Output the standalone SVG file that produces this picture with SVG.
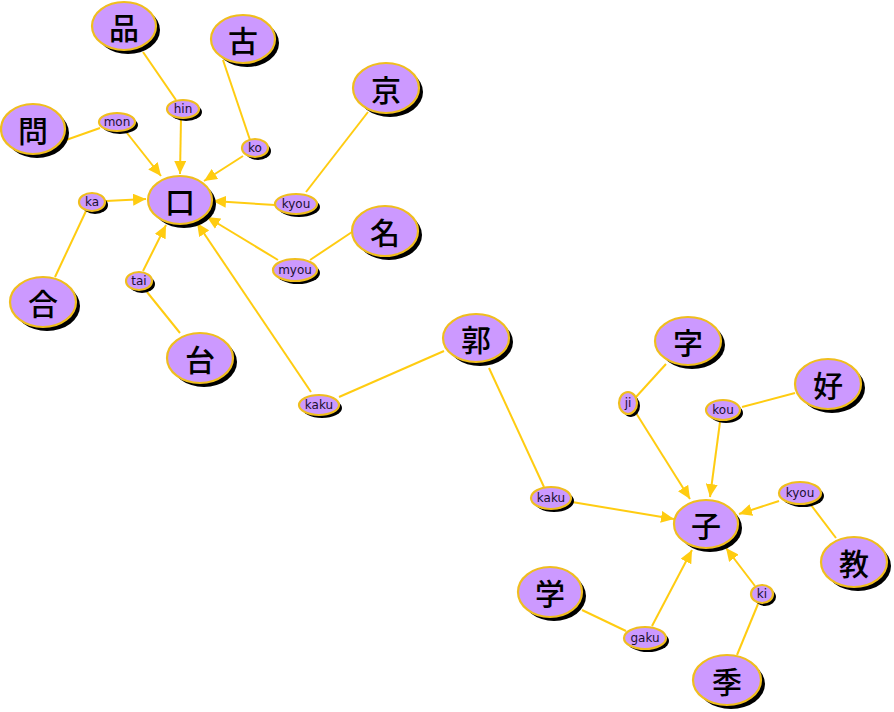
<svg xmlns="http://www.w3.org/2000/svg" width="894" height="712" viewBox="0 0 894 712">
<defs>
<style>
.sh{fill:#000}
.nd{fill:#cc99ff;stroke:#f0be1e;stroke-width:2.2}
.k{font-family:"Noto Sans CJK JP","Noto Sans CJK SC",sans-serif;font-size:30px;font-weight:500;fill:#000;text-anchor:middle;dominant-baseline:central}
.r{font-family:"DejaVu Sans",Verdana,sans-serif;font-size:12px;fill:#1a1030;text-anchor:middle;dominant-baseline:central}
.e{stroke:#ffcc11;stroke-width:2;fill:none}
.a{stroke:#ffcc11;stroke-width:2;fill:none;marker-end:url(#ah)}
</style>
<marker id="ah" markerUnits="userSpaceOnUse" markerWidth="14" markerHeight="12" refX="13" refY="6" orient="auto">
<path d="M0,0 L13,6 L0,12 z" fill="#ffcc11"/>
</marker>
</defs>
<rect width="894" height="712" fill="#fff"/>
<g id="connectors">
<line class="e" x1="143" y1="52" x2="176" y2="100"/>
<line class="a" x1="181" y1="118" x2="180" y2="174"/>
<line class="e" x1="223" y1="60" x2="250" y2="140"/>
<line class="a" x1="243" y1="156" x2="204" y2="181"/>
<line class="e" x1="66" y1="140" x2="100" y2="128"/>
<line class="a" x1="127" y1="133" x2="161" y2="176"/>
<line class="e" x1="368" y1="112" x2="306" y2="192"/>
<line class="a" x1="275" y1="205" x2="213" y2="201"/>
<line class="e" x1="352" y1="232" x2="310" y2="260"/>
<line class="a" x1="278" y1="260" x2="207" y2="217"/>
<line class="e" x1="55" y1="277" x2="86" y2="211"/>
<line class="a" x1="106" y1="201" x2="146" y2="199"/>
<line class="e" x1="180" y1="333" x2="147" y2="292"/>
<line class="a" x1="143" y1="271" x2="166" y2="225"/>
<line class="e" x1="444" y1="351" x2="339" y2="397"/>
<line class="a" x1="311" y1="392" x2="197" y2="223"/>
<line class="e" x1="489" y1="368" x2="544" y2="487"/>
<line class="a" x1="572" y1="502" x2="674" y2="519"/>
<line class="e" x1="666" y1="364" x2="636" y2="397"/>
<line class="a" x1="636" y1="413" x2="690" y2="499"/>
<line class="e" x1="795" y1="393" x2="742" y2="407"/>
<line class="a" x1="720" y1="422" x2="710" y2="497"/>
<line class="e" x1="836" y1="538" x2="811" y2="505"/>
<line class="a" x1="779" y1="501" x2="739" y2="514"/>
<line class="e" x1="582" y1="610" x2="626" y2="631"/>
<line class="a" x1="652" y1="626" x2="692" y2="550"/>
<line class="e" x1="737" y1="655" x2="758" y2="604"/>
<line class="a" x1="755" y1="586" x2="726" y2="548"/>
</g>
<g id="n-kuchi"><ellipse class="sh" cx="184" cy="204" rx="32" ry="24"/><ellipse class="nd" cx="180" cy="200" rx="32" ry="24"/><text class="k" x="180" y="200">口</text></g>
<g id="n-hin"><ellipse class="sh" cx="128" cy="30" rx="32" ry="24"/><ellipse class="nd" cx="124" cy="26" rx="32" ry="24"/><text class="k" x="124" y="26">品</text></g>
<g id="n-ko"><ellipse class="sh" cx="247" cy="43" rx="32" ry="24"/><ellipse class="nd" cx="243" cy="39" rx="32" ry="24"/><text class="k" x="243" y="39">古</text></g>
<g id="n-mon"><ellipse class="sh" cx="37" cy="133" rx="32" ry="25"/><ellipse class="nd" cx="33" cy="129" rx="32" ry="25"/><text class="k" x="33" y="129">問</text></g>
<g id="n-kyou"><ellipse class="sh" cx="390" cy="92" rx="33" ry="25"/><ellipse class="nd" cx="386" cy="88" rx="33" ry="25"/><text class="k" x="386" y="88">京</text></g>
<g id="n-myou"><ellipse class="sh" cx="389" cy="235" rx="33" ry="25"/><ellipse class="nd" cx="385" cy="231" rx="33" ry="25"/><text class="k" x="385" y="231">名</text></g>
<g id="n-gou"><ellipse class="sh" cx="47" cy="306" rx="33" ry="25"/><ellipse class="nd" cx="43" cy="302" rx="33" ry="25"/><text class="k" x="43" y="302">合</text></g>
<g id="n-dai"><ellipse class="sh" cx="204" cy="362" rx="33" ry="25"/><ellipse class="nd" cx="200" cy="358" rx="33" ry="25"/><text class="k" x="200" y="358">台</text></g>
<g id="n-kaku"><ellipse class="sh" cx="480" cy="342" rx="33" ry="24"/><ellipse class="nd" cx="476" cy="338" rx="33" ry="24"/><text class="k" x="476" y="338">郭</text></g>
<g id="n-ko2"><ellipse class="sh" cx="710" cy="528" rx="32" ry="24"/><ellipse class="nd" cx="706" cy="524" rx="32" ry="24"/><text class="k" x="706" y="524">子</text></g>
<g id="n-ji"><ellipse class="sh" cx="692" cy="345" rx="33" ry="24"/><ellipse class="nd" cx="688" cy="341" rx="33" ry="24"/><text class="k" x="688" y="341">字</text></g>
<g id="n-kou"><ellipse class="sh" cx="832" cy="388" rx="33" ry="25"/><ellipse class="nd" cx="828" cy="384" rx="33" ry="25"/><text class="k" x="828" y="384">好</text></g>
<g id="n-kyou2"><ellipse class="sh" cx="858" cy="566" rx="33" ry="25"/><ellipse class="nd" cx="854" cy="562" rx="33" ry="25"/><text class="k" x="854" y="562">教</text></g>
<g id="n-gaku"><ellipse class="sh" cx="554" cy="596" rx="32" ry="25"/><ellipse class="nd" cx="550" cy="592" rx="32" ry="25"/><text class="k" x="550" y="592">学</text></g>
<g id="n-ki"><ellipse class="sh" cx="731" cy="684" rx="34" ry="25"/><ellipse class="nd" cx="727" cy="680" rx="34" ry="25"/><text class="k" x="727" y="680">季</text></g>
<g id="r-hin"><ellipse class="sh" cx="186" cy="112" rx="16" ry="9"/><ellipse class="nd" cx="183" cy="109" rx="16" ry="9"/><text class="r" x="183" y="109">hin</text></g>
<g id="r-ko"><ellipse class="sh" cx="258" cy="151" rx="13" ry="9"/><ellipse class="nd" cx="255" cy="148" rx="13" ry="9"/><text class="r" x="255" y="148">ko</text></g>
<g id="r-mon"><ellipse class="sh" cx="120" cy="125" rx="18" ry="9"/><ellipse class="nd" cx="117" cy="122" rx="18" ry="9"/><text class="r" x="117" y="122">mon</text></g>
<g id="r-kyou"><ellipse class="sh" cx="299" cy="207" rx="21" ry="10"/><ellipse class="nd" cx="296" cy="204" rx="21" ry="10"/><text class="r" x="296" y="204">kyou</text></g>
<g id="r-myou"><ellipse class="sh" cx="298" cy="273" rx="22" ry="11"/><ellipse class="nd" cx="295" cy="270" rx="22" ry="11"/><text class="r" x="295" y="270">myou</text></g>
<g id="r-ka"><ellipse class="sh" cx="95" cy="205" rx="13" ry="9"/><ellipse class="nd" cx="92" cy="202" rx="13" ry="9"/><text class="r" x="92" y="202">ka</text></g>
<g id="r-tai"><ellipse class="sh" cx="142" cy="284" rx="13" ry="9"/><ellipse class="nd" cx="139" cy="281" rx="13" ry="9"/><text class="r" x="139" y="281">tai</text></g>
<g id="r-kaku1"><ellipse class="sh" cx="322" cy="408" rx="20" ry="10"/><ellipse class="nd" cx="319" cy="405" rx="20" ry="10"/><text class="r" x="319" y="405">kaku</text></g>
<g id="r-kaku2"><ellipse class="sh" cx="554" cy="501" rx="20" ry="11"/><ellipse class="nd" cx="551" cy="498" rx="20" ry="11"/><text class="r" x="551" y="498">kaku</text></g>
<g id="r-ji"><ellipse class="sh" cx="631" cy="406" rx="9" ry="11"/><ellipse class="nd" cx="628" cy="403" rx="9" ry="11"/><text class="r" x="628" y="403">ji</text></g>
<g id="r-kou"><ellipse class="sh" cx="726" cy="413" rx="17" ry="10"/><ellipse class="nd" cx="723" cy="410" rx="17" ry="10"/><text class="r" x="723" y="410">kou</text></g>
<g id="r-kyou2"><ellipse class="sh" cx="803" cy="496" rx="21" ry="11"/><ellipse class="nd" cx="800" cy="493" rx="21" ry="11"/><text class="r" x="800" y="493">kyou</text></g>
<g id="r-gaku"><ellipse class="sh" cx="648" cy="641" rx="21" ry="11"/><ellipse class="nd" cx="645" cy="638" rx="21" ry="11"/><text class="r" x="645" y="638">gaku</text></g>
<g id="r-ki"><ellipse class="sh" cx="765" cy="597" rx="11" ry="9"/><ellipse class="nd" cx="762" cy="594" rx="11" ry="9"/><text class="r" x="762" y="594">ki</text></g>
</svg>
